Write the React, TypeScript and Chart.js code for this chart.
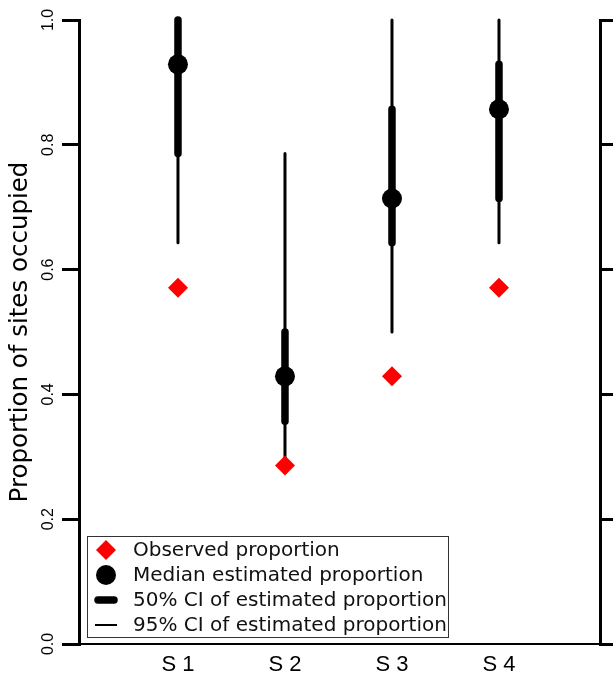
import React, { useEffect, useRef } from "react";
import { Chart, registerables } from "chart.js";

Chart.register(...registerables);

const sites = ["S 1", "S 2", "S 3", "S 4"];
const observed = [0.571, 0.286, 0.429, 0.571];
const median = [0.929, 0.429, 0.714, 0.857];
const ci50Low = [0.786, 0.357, 0.643, 0.714];
const ci50High = [1.0, 0.5, 0.857, 0.929];
const ci95Low = [0.643, 0.286, 0.5, 0.643];
const ci95High = [1.0, 0.786, 1.0, 1.0];
const yTicks = [0, 0.2, 0.4, 0.6, 0.8, 1.0];
const legendLabels = [
  "Observed proportion",
  "Median estimated proportion",
  "50% CI of estimated proportion",
  "95% CI of estimated proportion",
];

function segments(lo: number[], hi: number[]) {
  const pts: { x: number; y: number | null }[] = [];
  lo.forEach((l, i) => {
    pts.push({ x: i + 1, y: l });
    pts.push({ x: i + 1, y: hi[i] });
    pts.push({ x: i + 1.5, y: null });
  });
  return pts;
}

const legendPlugin = {
  id: "boxLegend",
  afterDraw(chart: any) {
    const { ctx, chartArea } = chart;
    const left = chartArea.left + 8;
    const bottom = chartArea.bottom - 7;
    const w = 361;
    const h = 101;
    const top = bottom - h;
    ctx.save();
    ctx.fillStyle = "#fff";
    ctx.fillRect(left, top, w, h);
    ctx.strokeStyle = "#333";
    ctx.lineWidth = 1;
    ctx.strokeRect(left + 0.5, top + 0.5, w, h);
    const sx = left + 19;
    const rowY = (i: number) => top + 14 + 25 * i;
    // diamond
    let y = rowY(0);
    ctx.fillStyle = "#ff0000";
    ctx.beginPath();
    ctx.moveTo(sx, y - 10);
    ctx.lineTo(sx + 10, y);
    ctx.lineTo(sx, y + 10);
    ctx.lineTo(sx - 10, y);
    ctx.closePath();
    ctx.fill();
    // circle
    y = rowY(1);
    ctx.fillStyle = "#000";
    ctx.beginPath();
    ctx.arc(sx, y, 10, 0, Math.PI * 2);
    ctx.fill();
    // thick line
    ctx.strokeStyle = "#000";
    ctx.lineCap = "round";
    y = rowY(2);
    ctx.lineWidth = 7.5;
    ctx.beginPath();
    ctx.moveTo(sx - 8, y);
    ctx.lineTo(sx + 8, y);
    ctx.stroke();
    // thin line
    y = rowY(3);
    ctx.lineWidth = 2;
    ctx.lineCap = "butt";
    ctx.beginPath();
    ctx.moveTo(sx - 11, y);
    ctx.lineTo(sx + 11, y);
    ctx.stroke();
    ctx.fillStyle = "#111";
    ctx.font = "20px 'DejaVu Sans'";
    ctx.textBaseline = "middle";
    ctx.textAlign = "left";
    legendLabels.forEach((t, i) => ctx.fillText(t, left + 46, rowY(i) + 1));
    ctx.restore();
  },
};

export default function App() {
  const ref = useRef<HTMLCanvasElement | null>(null);
  useEffect(() => {
    if (!ref.current) return;
    const chart = new Chart(ref.current, {
      type: "scatter",
      data: {
        datasets: [
          {
            label: "Observed proportion",
            data: observed.map((v, i) => ({ x: i + 1, y: v })),
            pointStyle: "rectRot",
            pointRadius: 10,
            pointBorderWidth: 0,
            backgroundColor: "#ff0000",
            borderColor: "#ff0000",
            order: 0,
            clip: false,
          },
          {
            label: "Median estimated proportion",
            data: median.map((v, i) => ({ x: i + 1, y: v })),
            pointStyle: "circle",
            pointRadius: 10,
            pointBorderWidth: 0,
            backgroundColor: "#000",
            borderColor: "#000",
            order: 1,
            clip: false,
          },
          {
            label: "50% CI",
            data: segments(ci50Low, ci50High) as any,
            showLine: true,
            spanGaps: false,
            pointRadius: 0,
            borderWidth: 7.5,
            borderColor: "#000",
            borderCapStyle: "round",
            order: 2,
            clip: false,
          } as any,
          {
            label: "95% CI",
            data: segments(ci95Low, ci95High) as any,
            showLine: true,
            spanGaps: false,
            pointRadius: 0,
            borderWidth: 3,
            borderColor: "#000",
            borderCapStyle: "round",
            order: 3,
            clip: false,
          } as any,
        ],
      },
      options: {
        responsive: false,
        animation: false,
        events: [],
        layout: { padding: { top: 20, left: 0, right: 0, bottom: 0 } },
        plugins: { legend: { display: false }, tooltip: { enabled: false } },
        scales: {
          x: {
            type: "linear",
            position: "bottom",
            min: 0.075,
            max: 4.944,
            afterBuildTicks: (s: any) => {
              s.ticks = sites.map((_, i) => ({ value: i + 1 }));
            },
            afterFit: (s: any) => {
              s.height = 40;
            },
            ticks: {
              autoSkip: false,
              maxRotation: 0,
              minRotation: 0,
              padding: 8,
              color: "#000",
              font: { family: "'Liberation Sans'", size: 22 },
              callback: (v: any) => sites[Math.round(Number(v)) - 1] ?? "",
            },
            grid: { display: false, drawTicks: false },
            border: { display: true, color: "#000", width: 2 },
          },
          y: {
            type: "linear",
            position: "left",
            min: 0,
            max: 1,
            afterBuildTicks: (s: any) => {
              s.ticks = yTicks.map((v) => ({ value: v }));
            },
            afterFit: (s: any) => {
              s.width = 79;
            },
            ticks: {
              minRotation: 90,
              maxRotation: 90,
              crossAlign: "center",
              padding: 2,
              color: "#000",
              font: { family: "'Liberation Sans'", size: 16 },
              callback: (v: any) => Number(v).toFixed(1),
            },
            grid: {
              drawOnChartArea: false,
              drawTicks: true,
              tickLength: 17,
              lineWidth: 3,
              color: "#000",
            },
            border: { display: true, color: "#000", width: 3 },
            title: {
              display: true,
              text: "Proportion of sites occupied",
              color: "#000",
              font: { family: "'DejaVu Sans'", size: 24.5 },
              padding: { top: 6, bottom: 0 },
            },
          },
          y2: {
            type: "linear",
            position: "right",
            min: 0,
            max: 1,
            afterBuildTicks: (s: any) => {
              s.ticks = yTicks.map((v) => ({ value: v }));
            },
            afterFit: (s: any) => {
              s.width = 13;
            },
            ticks: { display: false },
            grid: {
              drawOnChartArea: false,
              drawTicks: true,
              tickLength: 13,
              lineWidth: 3,
              color: "#000",
            },
            border: { display: true, color: "#000", width: 3 },
          },
        },
      },
      plugins: [legendPlugin],
    } as any);
    return () => chart.destroy();
  }, []);
  return (
    <div style={{ position: "absolute", left: 0, top: 0, width: 613, height: 684, background: "#fff" }}>
      <canvas ref={ref} width={613} height={684} style={{ display: "block" }} />
    </div>
  );
}
